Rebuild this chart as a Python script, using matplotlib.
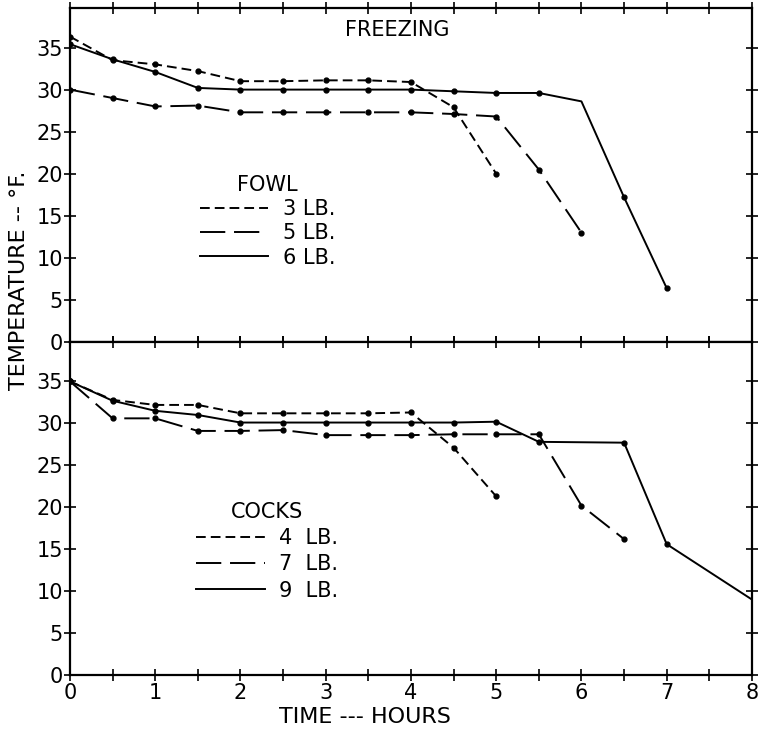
import numpy as np
import matplotlib.pyplot as plt
from matplotlib.lines import Line2D

plt.rcParams['font.family'] = ['DejaVu Sans']

# fowl (top panel)
fowl_3_x = [0, 0.5, 1, 1.5, 2, 2.5, 3, 3.5, 4, 4.5, 5]
fowl_3_y = [36.3, 33.5, 33.0, 32.2, 31.0, 31.0, 31.1, 31.1, 30.9, 27.9, 20.0]
fowl_5_x = [0, 0.5, 1, 1.5, 2, 2.5, 3, 3.5, 4, 4.5, 5, 5.5, 6]
fowl_5_y = [30.0, 29.0, 28.0, 28.1, 27.3, 27.3, 27.3, 27.3, 27.3, 27.1, 26.8, 20.5, 13.0]
fowl_6_x = [0, 0.5, 1, 1.5, 2, 2.5, 3, 3.5, 4, 4.5, 5, 5.5, 6, 6.5, 7]
fowl_6_y = [35.4, 33.6, 32.1, 30.2, 30.0, 30.0, 30.0, 30.0, 30.0, 29.8, 29.6, 29.6, 28.6, 17.2, 6.4]
fowl_6_marks = [0, 1, 2, 3, 4, 5, 6, 7, 8, 9, 10, 11, 13, 14]

# cocks (bottom panel)
cock_4_x = [0, 0.5, 1, 1.5, 2, 2.5, 3, 3.5, 4, 4.5, 5]
cock_4_y = [35.0, 32.8, 32.2, 32.2, 31.2, 31.2, 31.2, 31.2, 31.3, 27.1, 21.3]
cock_7_x = [0, 0.5, 1, 1.5, 2, 2.5, 3, 3.5, 4, 4.5, 5, 5.5, 6, 6.5]
cock_7_y = [35.0, 30.6, 30.6, 29.1, 29.1, 29.2, 28.6, 28.6, 28.6, 28.7, 28.7, 28.7, 20.2, 16.2]
cock_9_x = [0, 0.5, 1, 1.5, 2, 2.5, 3, 3.5, 4, 4.5, 5, 5.5, 6.5, 7, 8]
cock_9_y = [35.0, 32.7, 31.5, 31.0, 30.1, 30.1, 30.1, 30.1, 30.1, 30.1, 30.2, 27.8, 27.7, 15.6, 9.0]
cock_9_marks = list(range(14))

short_dash = (5, 2.6)
long_dash = (13, 4.5)
lw = 1.4

fig = plt.figure(figsize=(7.58, 7.33), dpi=100)
ax1 = fig.add_axes([0.0923, 0.5334, 0.8997, 0.4557])
ax2 = fig.add_axes([0.0923, 0.0791, 0.8997, 0.4543])

ax1.plot(fowl_3_x, fowl_3_y, color='black', lw=lw, dashes=short_dash, marker='o', ms=3.5)
ax1.plot(fowl_5_x, fowl_5_y, color='black', lw=lw, dashes=long_dash, marker='o', ms=3.5)
ax1.plot(fowl_6_x, fowl_6_y, color='black', lw=lw, marker='o', ms=3.5, markevery=fowl_6_marks)

ax2.plot(cock_4_x, cock_4_y, color='black', lw=lw, dashes=short_dash, marker='o', ms=3.5)
ax2.plot(cock_7_x, cock_7_y, color='black', lw=lw, dashes=long_dash, marker='o', ms=3.5)
ax2.plot(cock_9_x, cock_9_y, color='black', lw=lw, marker='o', ms=3.5, markevery=cock_9_marks)

for ax in (ax1, ax2):
    ax.set_xlim(0, 8)
    ax.set_ylim(0, 39.7)
    ax.set_xticks(np.arange(0, 8.01, 0.5))
    ax.set_yticks(np.arange(0, 36, 5))
    ax.tick_params(direction='inout', length=8, width=1.2, top=True, right=True,
                   labelsize=15, pad=1, colors='black')
    for s in ax.spines.values():
        s.set_linewidth(1.6)

ax1.set_xticklabels([])
ax2.set_xticklabels(['%d' % v if v == int(v) else '' for v in np.arange(0, 8.01, 0.5)])
ax2.tick_params(axis='x', pad=2)

ax1.text(0.48, 0.935, 'FREEZING', transform=ax1.transAxes, ha='center', va='center',
         fontsize=15)

fowl_handles = [Line2D([], [], color='black', lw=lw, dashes=short_dash),
                Line2D([], [], color='black', lw=lw, dashes=long_dash),
                Line2D([], [], color='black', lw=lw)]
leg1 = ax1.legend(fowl_handles, ['3 LB.', '5 LB.', '6 LB.'], title='FOWL',
                  loc='upper left', bbox_to_anchor=(0.19, 0.50), frameon=False,
                  fontsize=15, title_fontsize=15, handlelength=3.3, handletextpad=0.7,
                  labelspacing=0.2, borderpad=0, borderaxespad=0)

cock_handles = [Line2D([], [], color='black', lw=lw, dashes=short_dash),
                Line2D([], [], color='black', lw=lw, dashes=long_dash),
                Line2D([], [], color='black', lw=lw)]
leg2 = ax2.legend(cock_handles, ['4  LB.', '7  LB.', '9  LB.'], title='COCKS',
                  loc='upper left', bbox_to_anchor=(0.185, 0.52), frameon=False,
                  fontsize=15, title_fontsize=15, handlelength=3.3, handletextpad=0.7,
                  labelspacing=0.3, borderpad=0, borderaxespad=0)

fig.text(0.025, 0.618, 'TEMPERATURE -- °F.', rotation=90, ha='center', va='center', fontsize=16)
fig.text(0.4815, 0.022, 'TIME --- HOURS', ha='center', va='center', fontsize=16)

fig.savefig('out.png', dpi=100)
